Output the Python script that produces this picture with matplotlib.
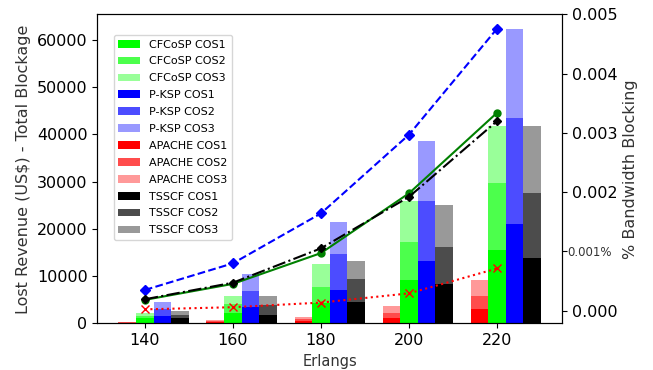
import numpy as np
import matplotlib
matplotlib.use('Agg')
import matplotlib.pyplot as plt

erlangs = [140, 160, 180, 200, 220]

# cumulative heights (COS1, COS1+COS2, COS1+COS2+COS3)
apache_cum = [[100, 200, 300], [250, 450, 700], [500, 950, 1400],
              [1180, 2240, 3660], [2960, 5770, 9090]]
cfcosp_cum = [[1050, 1650, 2100], [2200, 4000, 5700], [4300, 7740, 12600],
              [9150, 17250, 25860], [15500, 29730, 41700]]
pksp_cum = [[1650, 3100, 4570], [3450, 6860, 10420], [7040, 14590, 21350],
            [13170, 25920, 38600], [20930, 43340, 62220]]
tsscf_cum = [[1150, 1800, 2600], [1750, 3800, 5880], [4570, 9300, 13170],
             [8240, 16200, 25010], [13870, 27480, 41780]]

# % bandwidth blocking (right axis)
bw_cfcosp = [0.00018, 0.00045, 0.00097, 0.00198, 0.00334]
bw_pksp = [0.000347, 0.000797, 0.00164, 0.00297, 0.00476]
bw_apache = [0.00002, 0.000056, 0.000134, 0.00029, 0.00071]
bw_tsscf = [0.00019, 0.00047, 0.00105, 0.00192, 0.00320]

right_ticks = [0.0, 0.001, 0.002, 0.003, 0.004, 0.005]
right_labels = ['0.000', '0.001%', '0.002', '0.003', '0.004', '0.005']

groups = [
    ('APACHE', apache_cum, '#ff0000', -4),
    ('CFCoSP', cfcosp_cum, '#00ff00', 0),
    ('P-KSP', pksp_cum, '#0000ff', 4),
    ('TSSCF', tsscf_cum, '#000000', 8),
]
alphas = [1.0, 0.7, 0.4]

fig = plt.figure(figsize=(6.53, 3.70), dpi=100)
ax = fig.add_axes([0.149, 0.126, 0.712, 0.835])
x = np.array(erlangs, dtype=float)

handles = {}
for name, cum, col, off in groups:
    cum = np.array(cum, dtype=float)
    bottoms = np.zeros(len(x))
    for k in range(3):
        h = cum[:, k] - bottoms
        b = ax.bar(x + off, h, width=4, bottom=bottoms, color=col, alpha=alphas[k],
                   label='%s COS%d' % (name, k + 1))
        handles['%s COS%d' % (name, k + 1)] = b
        bottoms = cum[:, k]

order = ['CFCoSP', 'P-KSP', 'APACHE', 'TSSCF']
hs = [handles['%s COS%d' % (n, k)] for n in order for k in (1, 2, 3)]
ls = ['%s COS%d' % (n, k) for n in order for k in (1, 2, 3)]
ax.legend(hs, ls, loc='upper left', bbox_to_anchor=(0.035, 0.933), borderaxespad=0,
          fontsize=8, labelspacing=0.62, framealpha=0.8)

ax.set_xticks(erlangs)
ax.tick_params(labelsize=11.5)
ax.set_xlabel('Erlangs', fontsize=10.5, color='#333333')
ax.set_ylabel('Lost Revenue (US$) - Total Blockage', fontsize=11.5, color='#333333')

ax2 = ax.twinx()
ax2.plot(erlangs, bw_cfcosp, '-', color='green', marker='o', markersize=5)
ax2.plot(erlangs, bw_pksp, '--', color='blue', marker='D', markersize=5)
ax2.plot(erlangs, bw_apache, ':', color='red', marker='x', markersize=6)
ax2.plot(erlangs, bw_tsscf, '-.', color='black', marker='D', markersize=4)
ax2.set_yticks(right_ticks)
ax2.set_yticklabels(right_labels)
ax2.tick_params(labelsize=11.5)
small_tick = ax2.yaxis.get_major_ticks()[1]
small_tick.label2.set_fontsize(8.5)
small_tick.label2.set_color('#333333')
small_tick.label2.set_x(0.99)
ax2.set_ylabel('% Bandwidth Blocking', fontsize=11.5, color='#333333')

fig.savefig('out.png', dpi=100)
